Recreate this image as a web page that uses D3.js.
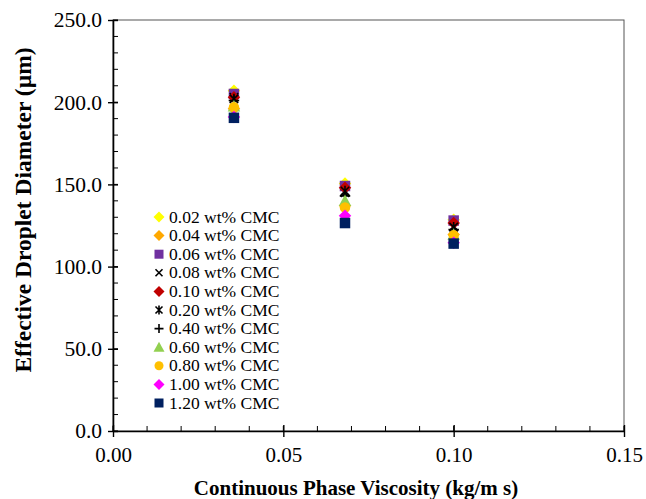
<!DOCTYPE html>
<html>
<head>
<meta charset="utf-8">
<script src="https://cdn.jsdelivr.net/npm/d3@7"></script>
<style>
  html, body { margin: 0; padding: 0; background: #fff; }
  svg { display: block; }
  text { font-family: "Liberation Serif", "Times New Roman", serif; fill: #000; }
</style>
</head>
<body>
<svg id="chart" width="646" height="499"></svg>
<script>
// Continuous phase viscosity (kg/m s) for the three measurement sets
const viscosity = [0.0355, 0.0681, 0.1];

// CMC concentration series and their effective droplet diameters (µm)
const seriesNames = ["0.02 wt% CMC", "0.04 wt% CMC", "0.06 wt% CMC", "0.08 wt% CMC",
  "0.10 wt% CMC", "0.20 wt% CMC", "0.40 wt% CMC", "0.60 wt% CMC",
  "0.80 wt% CMC", "1.00 wt% CMC", "1.20 wt% CMC"];
const cmc002 = [207.0, 150.5, 128.5];
const cmc004 = [196.0, 137.0, 119.5];
const cmc006 = [205.0, 149.0, 128.0];
const cmc008 = [203.0, 145.0, 124.5];
const cmc010 = [203.0, 148.0, 126.5];
const cmc020 = [202.0, 146.0, 124.0];
const cmc040 = [201.0, 143.0, 122.5];
const cmc060 = [197.5, 140.0, 119.5];
const cmc080 = [197.0, 136.0, 119.0];
const cmc100 = [191.0, 131.0, 114.5];
const cmc120 = [190.5, 126.5, 114.0];
const seriesValues = [cmc002, cmc004, cmc006, cmc008, cmc010, cmc020, cmc040,
  cmc060, cmc080, cmc100, cmc120];

const markerShapes = ["diamond", "diamond", "square", "cross", "diamond", "asterisk",
  "plus", "triangle", "circle", "diamond", "square"];
const markerColors = ["#FFFF00", "#FFA800", "#7030A0", "#000000", "#C00000", "#000000",
  "#000000", "#92D050", "#FFC000", "#FF00FF", "#002060"];

const xTicks = [0.00, 0.05, 0.10, 0.15];
const yTicks = [0, 50, 100, 150, 200, 250];

const svg = d3.select("#chart");
const plotLeft = 113, plotRight = 624, plotTop = 20, plotBottom = 431;

const x = d3.scaleLinear().domain([0, 0.15]).range([plotLeft, plotRight]);
const y = d3.scaleLinear().domain([0, 250]).range([plotBottom, plotTop]);

// Plot frame
svg.append("rect")
  .attr("x", plotLeft).attr("y", plotTop)
  .attr("width", plotRight - plotLeft).attr("height", plotBottom - plotTop)
  .attr("fill", "none").attr("stroke", "#555").attr("stroke-width", 1);

// Minor ticks (inside)
const xMinor = d3.range(0, 0.1501, 0.01);
svg.append("g").selectAll("line").data(xMinor).join("line")
  .attr("x1", d => x(d)).attr("x2", d => x(d))
  .attr("y1", plotBottom).attr("y2", plotBottom - 5)
  .attr("stroke", "#000").attr("stroke-width", 1);
const yMinor = d3.range(0, 250.1, 10);
svg.append("g").selectAll("line").data(yMinor).join("line")
  .attr("x1", plotLeft).attr("x2", plotLeft + 5)
  .attr("y1", d => y(d)).attr("y2", d => y(d))
  .attr("stroke", "#000").attr("stroke-width", 1);

// Major axes with crossing ticks
const xAxis = svg.append("g").attr("transform", `translate(0,${plotBottom})`)
  .call(d3.axisBottom(x).tickValues(xTicks).tickFormat(d3.format(".2f"))
    .tickSizeInner(6).tickSizeOuter(0).tickPadding(10));
xAxis.select(".domain").attr("stroke", "#000").attr("stroke-width", 1.6);
xAxis.selectAll(".tick line").attr("y1", -6).attr("stroke-width", 1.4);
xAxis.selectAll(".tick text").attr("font-size", 21).attr("font-family", "Liberation Serif");

const yAxis = svg.append("g").attr("transform", `translate(${plotLeft},0)`)
  .call(d3.axisLeft(y).tickValues(yTicks).tickFormat(d3.format(".1f"))
    .tickSizeInner(5).tickSizeOuter(0).tickPadding(6));
yAxis.select(".domain").attr("stroke", "#000").attr("stroke-width", 1.6);
yAxis.selectAll(".tick line").attr("x1", -5).attr("x2", 5).attr("stroke-width", 1.4);
yAxis.selectAll(".tick text").attr("font-size", 21.5).attr("font-family", "Liberation Serif");

// Axis titles
svg.append("text")
  .attr("x", 356).attr("y", 495)
  .attr("text-anchor", "middle").attr("font-size", 21).attr("font-weight", "bold")
  .text("Continuous Phase Viscosity (kg/m s)");
svg.append("text")
  .attr("transform", `translate(31,210) rotate(-90)`)
  .attr("text-anchor", "middle").attr("font-size", 23.5).attr("font-weight", "bold")
  .text("Effective Droplet Diameter (µm)");

// Marker drawing
function drawMarker(g, shape, color, cx, cy, s) {
  const h = s / 2;
  if (shape === "diamond") {
    g.append("path").attr("d", `M${cx},${cy - h - 1}L${cx + h + 1},${cy}L${cx},${cy + h + 1}L${cx - h - 1},${cy}Z`)
      .attr("fill", color);
  } else if (shape === "square") {
    g.append("rect").attr("x", cx - h).attr("y", cy - h).attr("width", s).attr("height", s)
      .attr("fill", color);
  } else if (shape === "circle") {
    g.append("circle").attr("cx", cx).attr("cy", cy).attr("r", h).attr("fill", color);
  } else if (shape === "triangle") {
    g.append("path").attr("d", `M${cx},${cy - h - 1}L${cx + h + 1},${cy + h}L${cx - h - 1},${cy + h}Z`)
      .attr("fill", color);
  } else if (shape === "cross") {
    g.append("path").attr("d", `M${cx - h + 1},${cy - h + 1}L${cx + h - 1},${cy + h - 1}M${cx + h - 1},${cy - h + 1}L${cx - h + 1},${cy + h - 1}`)
      .attr("stroke", color).attr("stroke-width", 1.6).attr("fill", "none");
  } else if (shape === "plus") {
    g.append("path").attr("d", `M${cx - h},${cy}L${cx + h},${cy}M${cx},${cy - h}L${cx},${cy + h}`)
      .attr("stroke", color).attr("stroke-width", 1.6).attr("fill", "none");
  } else if (shape === "asterisk") {
    g.append("path").attr("d", `M${cx - h + 1},${cy - h + 1}L${cx + h - 1},${cy + h - 1}M${cx + h - 1},${cy - h + 1}L${cx - h + 1},${cy + h - 1}M${cx},${cy - h}L${cx},${cy + h}`)
      .attr("stroke", color).attr("stroke-width", 1.6).attr("fill", "none");
  }
}

// Data points
const pts = svg.append("g");
seriesValues.forEach((vals, i) => {
  vals.forEach((v, j) => {
    drawMarker(pts, markerShapes[i], markerColors[i], x(viscosity[j]), y(v), 10.5);
  });
});

// Legend
const legend = svg.append("g");
const legX = 159, legY0 = 217, legStep = 18.6;
seriesNames.forEach((name, i) => {
  const cy = legY0 + i * legStep;
  drawMarker(legend, markerShapes[i], markerColors[i], legX, cy, 9);
  legend.append("text")
    .attr("x", legX + 10).attr("y", cy + 5.5)
    .attr("font-size", 17.5)
    .text(name);
});
</script>
</body>
</html>
